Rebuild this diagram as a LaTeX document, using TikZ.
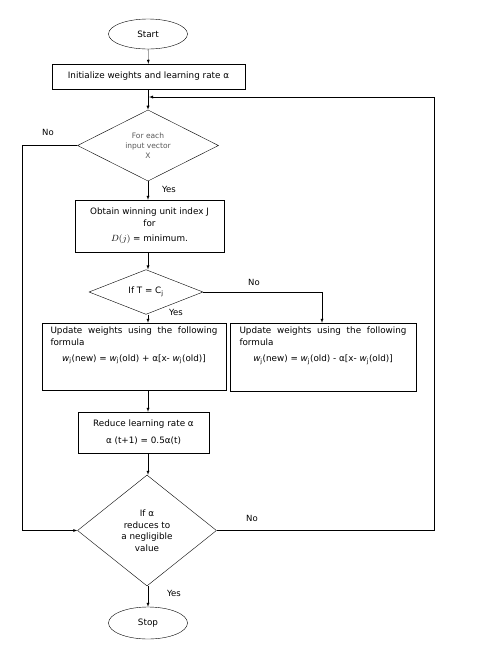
\documentclass[tikz,border=0pt]{standalone}
\usepackage{fontspec}
\setmainfont{DejaVu Sans}
\usetikzlibrary{arrows,backgrounds,shapes,shapes.geometric,positioning,calc}
\pgfdeclarelayer{edgelayer}
\pgfdeclarelayer{nodelayer}
\pgfsetlayers{background,edgelayer,nodelayer,main}
\tikzstyle{none}=[inner sep=0mm]
\tikzstyle{term}=[draw=black,shape=ellipse,fill=white,minimum width=79pt,minimum height=30pt,inner sep=0pt]
\tikzstyle{proc}=[draw=black,shape=rectangle,fill=white,inner sep=0pt,align=center]
\tikzstyle{dec}=[draw=black,shape=diamond,fill=white,inner sep=0pt,align=center]
\tikzstyle{lbl}=[none,font=\fontsize{8.5}{10}\selectfont]
\tikzstyle{diredge}=[-latex]
\newcommand{\wj}{\textit{w}\textsubscript{j}}
\newcommand{\updtext}[1]{\parbox[t][60pt][t]{167pt}{\hyphenpenalty=10000\exhyphenpenalty=10000 Update weights using the following formula\par\vspace{4pt}\centering #1}}

\begin{document}
\begin{tikzpicture}[x=1pt,y=-1pt,line width=1pt,font={\fontsize{8.8}{12}\selectfont}]
	\useasboundingbox (0,0) rectangle (479,657);
	\begin{pgfonlayer}{nodelayer}
		\node [style=term] (start) at (148,34) {Start};
		\node [style=proc,minimum width=193pt,minimum height=25pt] (init) at (148.5,76.5) {Initialize weights and learning rate α};
		\node [style=dec,minimum width=141pt,minimum height=71pt,text=black!65,font={\fontsize{7.5}{10}\selectfont}] (d1) at (148,145.5) {For each\\input vector\\X};
		\node [style=proc,minimum width=149pt,minimum height=52pt] (win) at (149.5,226) {Obtain winning unit index J\\for\\[3pt]$D(j)$ = minimum.};
		\node [style=dec,minimum width=114pt,minimum height=40pt] (d2) at (146,292) {If T = C\textsubscript{j}};
		\node [style=proc,minimum width=184pt,minimum height=67pt] (upd) at (134,356.5) {\updtext{\wj(new) = \wj(old) + α[x- \wj(old)]}};
		\node [style=proc,minimum width=186pt,minimum height=68pt] (updn) at (323,357) {\updtext{\wj(new) = \wj(old) - α[x- \wj(old)]}};
		\node [style=proc,minimum width=131pt,minimum height=41pt] (red) at (143.5,432.5) {Reduce learning rate α\\[5pt]α (t+1) = 0.5α(t)};
		\node [style=dec,minimum width=139pt,minimum height=111pt,font={\fontsize{8.8}{11.5}\selectfont}] (d3) at (147,530.5) {If α\\reduces to\\a negligible\\value};
		\node [style=term,minimum height=32pt] (stop) at (148,623) {Stop};
		\node [style=lbl] (no1) at (48,132) {No};
		\node [style=lbl] (yes1) at (169,189) {Yes};
		\node [style=lbl] (no2) at (254,282) {No};
		\node [style=lbl] (yes2) at (176,312) {Yes};
		\node [style=lbl] (no3) at (252,518) {No};
		\node [style=lbl] (yes3) at (174,593) {Yes};
		\coordinate (rt) at (434,97);
		\coordinate (jn) at (149,97);
		\coordinate (lt) at (22,0);
		\coordinate (nt) at (322,0);
	\end{pgfonlayer}
	\begin{pgfonlayer}{edgelayer}
		\draw[style=diredge] (start) to (init);
		\draw[style=diredge] (init.south -| d1.north) to (d1.north);
		\draw[style=diredge] (d1.south) to (d1.south |- win.north);
		\draw[style=diredge] (win.south -| d1.south) to (d1.south |- d2.north);
		\draw[style=diredge] (d2.south -| d1.south) to (d1.south |- upd.north);
		\draw[style=diredge] (d2.east) -| (nt |- updn.north);
		\draw[style=diredge] (upd.south -| d1.south) to (d1.south |- red.north);
		\draw[style=diredge] (red.south -| d1.south) to (d1.south |- d3.north);
		\draw[style=diredge] (d3.south -| d1.south) to (d1.south |- stop.north);
		\draw[style=diredge] (d1.west) -- (d1.west -| lt) -- (d3.west -| lt) -- (d3.west);
		\draw[style=diredge] (d3.east) -- (d3.east -| rt) -- (rt) -- (jn);
	\end{pgfonlayer}
\end{tikzpicture}
\end{document}
